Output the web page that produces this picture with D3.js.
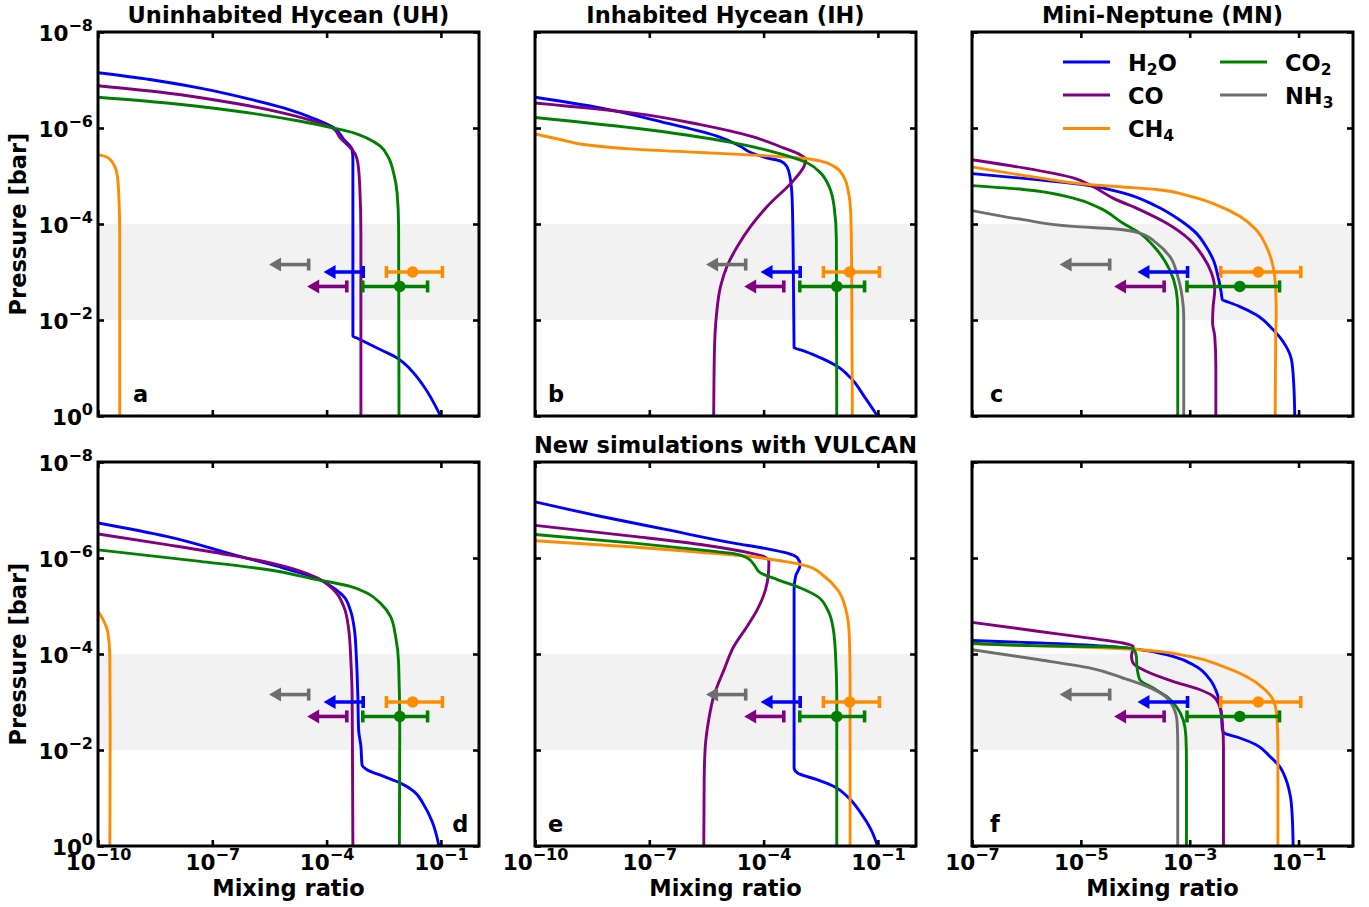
<!DOCTYPE html>
<html>
<head>
<meta charset="utf-8">
<script src="https://cdn.jsdelivr.net/npm/d3@7"></script>
<style>
  body { margin: 0; background: #fff; }
  svg { display: block; }
</style>
</head>
<body>
<svg id="chart" width="1369" height="907"></svg>
<script>
// ---- Species and colours ----
const species = ["H2O", "CO", "CH4", "CO2", "NH3"];
const speciesColor = { H2O: "#0000ff", CO: "#800080", CH4: "#ff8c00", CO2: "#008000", NH3: "#6e6e6e" };

// ---- Vertical profiles: [log10 mixing ratio, log10 pressure (bar)] ----
// Uninhabited Hycean (UH)
const uhH2O = [[-10,-7.15],[-8.64,-7.01],[-7.32,-6.83],[-6.01,-6.60],[-5.13,-6.42],[-4.25,-6.17],[-3.82,-6.01],[-3.55,-5.76],[-3.33,-5.55],[-3.31,-5.34],[-3.31,-1.66],[-3.22,-1.63],[-2.94,-1.52],[-2.50,-1.35],[-2.15,-1.21],[-1.80,-0.97],[-1.45,-0.62],[-1.01,0]];
const uhCO  = [[-10,-6.88],[-8.20,-6.73],[-6.45,-6.52],[-5.13,-6.31],[-4.25,-6.12],[-3.82,-5.99],[-3.64,-5.79],[-3.42,-5.62],[-3.29,-5.51],[-3.18,-5.27],[-3.13,-4.78],[-3.10,-3.81],[-3.10,0]];
const uhCH4 = [[-10,-5.44],[-9.78,-5.40],[-9.61,-5.27],[-9.49,-4.99],[-9.45,-4.51],[-9.43,-3.81],[-9.43,0]];
const uhCO2 = [[-10,-6.64],[-8.20,-6.52],[-6.45,-6.36],[-4.69,-6.14],[-3.82,-6.00],[-3.29,-5.90],[-2.94,-5.79],[-2.59,-5.62],[-2.37,-5.375],[-2.24,-5.06],[-2.15,-4.65],[-2.11,-3.95],[-2.10,0]];

// Inhabited Hycean (IH)
const ihH2O = [[-10,-6.64],[-8.29,-6.42],[-6.54,-6.10],[-5.22,-5.83],[-4.61,-5.62],[-4.34,-5.49],[-3.90,-5.375],[-3.55,-5.31],[-3.39,-5.20],[-3.31,-4.99],[-3.25,-4.51],[-3.22,-3.12],[-3.20,-1.42],[-3.03,-1.38],[-2.50,-1.21],[-2.06,-1.03],[-1.71,-0.79],[-1.36,-0.41],[-1.01,0]];
const ihCO  = [[-10,-6.52],[-7.41,-6.31],[-5.66,-6.07],[-4.34,-5.83],[-3.46,-5.58],[-3.03,-5.44],[-2.89,-5.35],[-2.94,-5.20],[-3.20,-4.92],[-3.90,-4.37],[-4.34,-3.95],[-4.69,-3.53],[-4.96,-3.12],[-5.13,-2.70],[-5.24,-2.08],[-5.29,-1.38],[-5.31,0]];
const ihCH4 = [[-10,-5.875],[-9.34,-5.76],[-8.68,-5.65],[-7.41,-5.56],[-5.66,-5.49],[-3.90,-5.42],[-3.03,-5.375],[-2.50,-5.31],[-2.15,-5.20],[-1.90,-4.99],[-1.77,-4.65],[-1.71,-4.16],[-1.69,-3.12],[-1.67,0]];
const ihCO2 = [[-10,-6.22],[-7.41,-6.00],[-4.78,-5.69],[-3.46,-5.44],[-2.85,-5.27],[-2.50,-5.06],[-2.28,-4.78],[-2.15,-4.37],[-2.09,-3.67],[-2.08,0]];

// Mini-Neptune (MN)
const mnH2O = [[-7,-5.05],[-5.76,-4.92],[-4.84,-4.80],[-4.23,-4.65],[-3.61,-4.37],[-3.19,-4.09],[-2.88,-3.81],[-2.70,-3.53],[-2.57,-3.26],[-2.48,-2.91],[-2.42,-2.56],[-2.40,-2.42],[-2.33,-2.39],[-2.08,-2.28],[-1.78,-2.11],[-1.47,-1.80],[-1.23,-1.45],[-1.13,-1.17],[-1.09,-0.69],[-1.07,0]];
const mnCO  = [[-7,-5.34],[-6.06,-5.17],[-5.14,-4.96],[-4.78,-4.78],[-4.41,-4.54],[-3.92,-4.30],[-3.43,-4.02],[-3.00,-3.67],[-2.76,-3.33],[-2.60,-2.98],[-2.54,-2.63],[-2.57,-2.28],[-2.58,-1.94],[-2.54,-1.66],[-2.52,-1.03],[-2.52,0]];
const mnCH4 = [[-7,-5.19],[-5.76,-4.96],[-4.84,-4.82],[-4.23,-4.77],[-3.61,-4.72],[-3.00,-4.58],[-2.51,-4.40],[-2.08,-4.16],[-1.78,-3.88],[-1.59,-3.53],[-1.47,-3.12],[-1.42,-2.63],[-1.41,-2.08],[-1.42,-1.73],[-1.43,0]];
const mnCO2 = [[-7,-4.80],[-6.06,-4.72],[-5.14,-4.54],[-4.65,-4.33],[-4.23,-4.02],[-3.92,-3.81],[-3.61,-3.47],[-3.37,-3.05],[-3.25,-2.63],[-3.22,-2.22],[-3.22,0]];
const mnNH3 = [[-7,-4.28],[-6.06,-4.09],[-5.14,-3.95],[-4.41,-3.90],[-3.92,-3.81],[-3.61,-3.60],[-3.37,-3.33],[-3.22,-2.91],[-3.14,-2.49],[-3.11,-2.08],[-3.11,0]];

// VULCAN: Uninhabited Hycean
const vuhH2O = [[-10,-6.73],[-8.20,-6.45],[-6.45,-6.07],[-5.13,-5.79],[-4.25,-5.58],[-3.82,-5.375],[-3.55,-5.20],[-3.38,-4.92],[-3.27,-4.51],[-3.22,-3.95],[-3.18,-3.12],[-3.16,-2.42],[-3.10,-2.08],[-3.07,-1.69],[-2.94,-1.59],[-2.50,-1.45],[-2.06,-1.31],[-1.71,-1.14],[-1.45,-0.86],[-1.23,-0.51],[-1.05,0]];
const vuhCO  = [[-10,-6.50],[-8.20,-6.28],[-6.45,-6.05],[-5.13,-5.83],[-4.34,-5.62],[-3.82,-5.34],[-3.55,-4.99],[-3.42,-4.51],[-3.36,-3.81],[-3.33,-3.12],[-3.32,-1.73],[-3.31,0]];
const vuhCH4 = [[-10,-4.89],[-9.87,-4.72],[-9.74,-4.44],[-9.69,-3.95],[-9.68,-2.42],[-9.69,0]];
const vuhCO2 = [[-10,-6.17],[-7.32,-5.93],[-5.57,-5.76],[-4.25,-5.55],[-3.38,-5.41],[-2.94,-5.27],[-2.59,-5.06],[-2.32,-4.78],[-2.19,-4.37],[-2.11,-3.81],[-2.08,-2.42],[-2.09,0]];

// VULCAN: Inhabited Hycean
const vihH2O = [[-10,-7.17],[-8.29,-6.87],[-6.54,-6.59],[-4.78,-6.31],[-3.90,-6.19],[-3.38,-6.10],[-3.11,-6.00],[-3.04,-5.86],[-3.16,-5.62],[-3.20,-5.34],[-3.20,-3.81],[-3.20,-1.625],[-3.11,-1.52],[-2.59,-1.38],[-2.15,-1.24],[-1.80,-1.03],[-1.45,-0.69],[-1.18,-0.34],[-1.01,0]];
const vihCO  = [[-10,-6.68],[-7.41,-6.45],[-5.66,-6.28],[-4.34,-6.10],[-3.99,-6.03],[-3.86,-5.93],[-3.88,-5.62],[-3.95,-5.34],[-4.17,-4.92],[-4.43,-4.58],[-4.78,-4.16],[-5.04,-3.67],[-5.31,-3.12],[-5.44,-2.63],[-5.53,-2.08],[-5.56,-1.38],[-5.57,0]];
const vihCH4 = [[-10,-6.36],[-7.41,-6.23],[-5.66,-6.12],[-4.34,-6.03],[-3.46,-5.93],[-2.85,-5.83],[-2.41,-5.62],[-2.06,-5.34],[-1.84,-4.92],[-1.75,-4.37],[-1.73,-3.47],[-1.73,0]];
const vihCO2 = [[-10,-6.49],[-7.41,-6.31],[-5.66,-6.17],[-4.78,-6.09],[-4.43,-6.00],[-4.25,-5.86],[-4.08,-5.69],[-3.64,-5.55],[-3.03,-5.375],[-2.59,-5.20],[-2.32,-4.92],[-2.17,-4.51],[-2.11,-3.95],[-2.08,-3.12],[-2.08,0]];

// VULCAN: Mini-Neptune
const vmnH2O = [[-7,-4.28],[-5.76,-4.23],[-4.53,-4.16],[-3.92,-4.09],[-3.31,-3.95],[-2.88,-3.74],[-2.63,-3.47],[-2.48,-3.12],[-2.42,-2.77],[-2.40,-2.42],[-2.36,-2.35],[-2.08,-2.25],[-1.78,-2.11],[-1.53,-1.87],[-1.35,-1.66],[-1.23,-1.38],[-1.15,-1.03],[-1.12,-0.69],[-1.10,0]];
const vmnCO  = [[-7,-4.66],[-5.76,-4.47],[-4.84,-4.33],[-4.23,-4.23],[-4.04,-4.16],[-4.07,-3.95],[-4.04,-3.81],[-3.80,-3.64],[-3.31,-3.43],[-2.82,-3.26],[-2.57,-3.12],[-2.45,-2.91],[-2.40,-2.56],[-2.38,-2.08],[-2.38,0]];
const vmnCH4 = [[-7,-4.21],[-5.14,-4.15],[-3.92,-4.09],[-3.00,-3.95],[-2.39,-3.74],[-1.96,-3.53],[-1.65,-3.29],[-1.47,-3.05],[-1.40,-2.70],[-1.38,-2.08],[-1.38,0]];
const vmnCO2 = [[-7,-4.23],[-5.76,-4.17],[-4.53,-4.15],[-4.04,-4.11],[-3.98,-3.95],[-3.97,-3.74],[-3.92,-3.47],[-3.67,-3.29],[-3.43,-3.12],[-3.25,-2.91],[-3.12,-2.63],[-3.07,-2.28],[-3.06,-1.73],[-3.06,0]];
const vmnNH3 = [[-7,-4.09],[-5.76,-3.88],[-4.84,-3.71],[-4.23,-3.50],[-3.80,-3.33],[-3.49,-3.15],[-3.31,-2.91],[-3.23,-2.56],[-3.22,-2.08],[-3.22,0]];

// ---- Retrieved abundances (log10 mixing ratio) ----
const detSpecies  = ["CH4", "CO2"];
const detMedian   = [-1.74, -2.08];
const detLow      = [-2.43, -3.05];
const detHigh     = [-0.96, -1.35];
const detPressure = [1e-3, 2e-3];

const limSpecies  = ["H2O", "CO", "NH3"];
const limValue    = [-3.04, -3.47, -4.47];
const limPressure = [1e-3, 2e-3, 7e-4];

// ---- Axis ticks (log10) ----
const yTickExps = [-8, -6, -4, -2, 0];
const xTickExpsHycean = [-10, -7, -4, -1];
const xTickExpsMN = [-7, -5, -3, -1];

const panelTitles = ["Uninhabited Hycean (UH)", "Inhabited Hycean (IH)", "Mini-Neptune (MN)"];
const vulcanTitle = "New simulations with VULCAN";

// ---- Layout ----
const FONT = "'DejaVu Sans', 'Liberation Sans', sans-serif";
const W = 381, H = 384;
const colX = [98, 535, 972];
const rowY = [32, 462];

const panels = [
  { letter: "a", col: 0, row: 0, xExp: [-10, 0], ticks: xTickExpsHycean, span: 1.04, letterX: 0.092,
    profiles: { H2O: uhH2O, CO: uhCO, CH4: uhCH4, CO2: uhCO2 } },
  { letter: "b", col: 1, row: 0, xExp: [-10, 0], ticks: xTickExpsHycean, span: 1.04, letterX: 0.034,
    profiles: { H2O: ihH2O, CO: ihCO, CH4: ihCH4, CO2: ihCO2 } },
  { letter: "c", col: 2, row: 0, xExp: [-7, 0], ticks: xTickExpsMN, span: 0.92, letterX: 0.047,
    profiles: { H2O: mnH2O, CO: mnCO, CH4: mnCH4, CO2: mnCO2, NH3: mnNH3 } },
  { letter: "d", col: 0, row: 1, xExp: [-10, 0], ticks: xTickExpsHycean, span: 1.04, letterX: 0.93,
    profiles: { H2O: vuhH2O, CO: vuhCO, CH4: vuhCH4, CO2: vuhCO2 } },
  { letter: "e", col: 1, row: 1, xExp: [-10, 0], ticks: xTickExpsHycean, span: 1.04, letterX: 0.034,
    profiles: { H2O: vihH2O, CO: vihCO, CH4: vihCH4, CO2: vihCO2 } },
  { letter: "f", col: 2, row: 1, xExp: [-7, 0], ticks: xTickExpsMN, span: 0.92, letterX: 0.047,
    profiles: { H2O: vmnH2O, CO: vmnCO, CH4: vmnCH4, CO2: vmnCO2, NH3: vmnNH3 } }
];

const svg = d3.select("#chart")
  .attr("font-family", FONT)
  .attr("font-weight", "bold");

// power-of-ten label "10^n" built from tspans
function powerLabel(textSel, exp) {
  textSel.text(null);
  textSel.append("tspan").text("10");
  textSel.append("tspan")
    .attr("dy", -10)
    .attr("font-size", 16)
    .text(exp < 0 ? "\u2212" + (-exp) : String(exp));
}

// chemical formula with subscripted digits
function formula(textSel, name) {
  textSel.text(null);
  let sub = false;
  for (const ch of name) {
    const isDigit = /[0-9]/.test(ch);
    const t = textSel.append("tspan").text(ch);
    if (isDigit && !sub) { t.attr("dy", 4).attr("font-size", 15.5); sub = true; }
    else if (isDigit && sub) { t.attr("font-size", 15.5); }
    else if (!isDigit && sub) { t.attr("dy", -4); sub = false; }
  }
}

const yScale = d3.scaleLog().domain([1e-8, 1]).range([0, H]);

panels.forEach(p => {
  const g = svg.append("g").attr("transform", `translate(${colX[p.col]},${rowY[p.row]})`);
  const x = d3.scaleLog().domain([10 ** p.xExp[0], 10 ** p.xExp[1]]).range([0, W]);
  const y = yScale;

  const clipId = "clip-" + p.letter;
  g.append("clipPath").attr("id", clipId)
    .append("rect").attr("width", W).attr("height", H);

  // observed pressure range band
  g.append("rect")
    .attr("x", 0).attr("width", W)
    .attr("y", y(1e-4)).attr("height", y(1e-2) - y(1e-4))
    .attr("fill", "#f2f2f2");

  // profiles
  const line = d3.line()
    .x(d => x(10 ** d[0]))
    .y(d => y(10 ** d[1]))
    .curve(d3.curveMonotoneY);

  const curves = g.append("g").attr("clip-path", `url(#${clipId})`);
  species.forEach(sp => {
    if (!p.profiles[sp]) return;
    curves.append("path")
      .datum(p.profiles[sp])
      .attr("d", line)
      .attr("fill", "none")
      .attr("stroke", speciesColor[sp])
      .attr("stroke-width", 2.9)
      .attr("stroke-linejoin", "round");
  });

  // upper limits with leftward arrows
  const obs = g.append("g");
  limSpecies.forEach((sp, k) => {
    const c = speciesColor[sp];
    const yy = y(limPressure[k]);
    const x1 = x(10 ** limValue[k]);
    const x0 = x(10 ** (limValue[k] - p.span));
    obs.append("line")
      .attr("x1", x0 + 8).attr("x2", x1).attr("y1", yy).attr("y2", yy)
      .attr("stroke", c).attr("stroke-width", 3.6);
    obs.append("line")
      .attr("x1", x1).attr("x2", x1).attr("y1", yy - 6).attr("y2", yy + 6)
      .attr("stroke", c).attr("stroke-width", 3.6);
    obs.append("path")
      .attr("d", `M${x0},${yy}L${x0 + 12},${yy - 7}L${x0 + 12},${yy + 7}Z`)
      .attr("fill", c);
  });

  // detections with error bars
  detSpecies.forEach((sp, k) => {
    const c = speciesColor[sp];
    const yy = y(detPressure[k]);
    const xl = x(10 ** detLow[k]), xh = x(10 ** detHigh[k]), xm = x(10 ** detMedian[k]);
    obs.append("line")
      .attr("x1", xl).attr("x2", xh).attr("y1", yy).attr("y2", yy)
      .attr("stroke", c).attr("stroke-width", 3.6);
    [xl, xh].forEach(xc => obs.append("line")
      .attr("x1", xc).attr("x2", xc).attr("y1", yy - 6).attr("y2", yy + 6)
      .attr("stroke", c).attr("stroke-width", 3.6));
    obs.append("circle")
      .attr("cx", xm).attr("cy", yy).attr("r", 5.8)
      .attr("fill", c);
  });

  // axes with inward ticks
  const tickVals = p.ticks.map(e => 10 ** e);
  const yTickVals = yTickExps.map(e => 10 ** e);
  const styleAxis = sel => {
    sel.attr("font-family", FONT).attr("font-size", 21.5).attr("font-weight", "bold");
    sel.select(".domain").remove();
    sel.selectAll(".tick line").attr("stroke", "#000").attr("stroke-width", 2.6);
  };

  const bottom = g.append("g").attr("transform", `translate(0,${H})`)
    .call(d3.axisBottom(x).tickValues(tickVals).tickSizeInner(-6).tickSizeOuter(0)
      .tickFormat(p.row === 1 ? (d => String(Math.round(Math.log10(d)))) : ""));
  styleAxis(bottom);
  if (p.row === 1) {
    bottom.selectAll(".tick text")
      .attr("y", 23.5).attr("dy", null).attr("fill", "#000")
      .each(function (d) { powerLabel(d3.select(this), Math.round(Math.log10(d))); });
  }

  const top = g.append("g")
    .call(d3.axisTop(x).tickValues(tickVals).tickSizeInner(-6).tickSizeOuter(0).tickFormat(""));
  styleAxis(top);

  const left = g.append("g")
    .call(d3.axisLeft(y).tickValues(yTickVals).tickSizeInner(-6).tickSizeOuter(0)
      .tickFormat(p.col === 0 ? (d => String(Math.round(Math.log10(d)))) : ""));
  styleAxis(left);
  if (p.col === 0) {
    left.selectAll(".tick text")
      .attr("x", -5).attr("y", 8.5).attr("dy", null).attr("fill", "#000")
      .each(function (d) { powerLabel(d3.select(this), Math.round(Math.log10(d))); });
  }

  const right = g.append("g").attr("transform", `translate(${W},0)`)
    .call(d3.axisRight(y).tickValues(yTickVals).tickSizeInner(-6).tickSizeOuter(0).tickFormat(""));
  styleAxis(right);

  // frame
  g.append("rect")
    .attr("width", W).attr("height", H)
    .attr("fill", "none").attr("stroke", "#000").attr("stroke-width", 3);

  // panel letter
  g.append("text")
    .attr("x", p.letterX * W).attr("y", H - 14)
    .attr("font-size", 22.5)
    .text(p.letter);

  // axis labels
  if (p.row === 1) {
    g.append("text")
      .attr("x", W / 2).attr("y", H + 50)
      .attr("text-anchor", "middle").attr("font-size", 22.5)
      .text("Mixing ratio");
  }
  if (p.col === 0) {
    g.append("text")
      .attr("transform", `translate(${26 - colX[0]},${H / 2}) rotate(-90)`)
      .attr("text-anchor", "middle").attr("font-size", 22.5)
      .text("Pressure [bar]");
  }

  // titles
  if (p.row === 0) {
    g.append("text")
      .attr("x", W / 2).attr("y", -9)
      .attr("text-anchor", "middle").attr("font-size", 22.5)
      .text(panelTitles[p.col]);
  }
  if (p.row === 1 && p.col === 1) {
    g.append("text")
      .attr("x", W / 2).attr("y", -9)
      .attr("text-anchor", "middle").attr("font-size", 22.5)
      .text(vulcanTitle);
  }

  // legend (Mini-Neptune panel)
  if (p.letter === "c") {
    const legendCols = [["H2O", "CO", "CH4"], ["CO2", "NH3"]];
    const colOff = [91, 248];
    const rowOff = [30, 63, 96.5];
    const lg = g.append("g");
    legendCols.forEach((list, ci) => list.forEach((sp, ri) => {
      lg.append("line")
        .attr("x1", colOff[ci]).attr("x2", colOff[ci] + 47)
        .attr("y1", rowOff[ri]).attr("y2", rowOff[ri])
        .attr("stroke", speciesColor[sp]).attr("stroke-width", 3);
      const t = lg.append("text")
        .attr("x", colOff[ci] + 65).attr("y", rowOff[ri] + 8.5)
        .attr("font-size", 22.5);
      formula(t, sp);
    }));
  }
});
</script>
</body>
</html>
